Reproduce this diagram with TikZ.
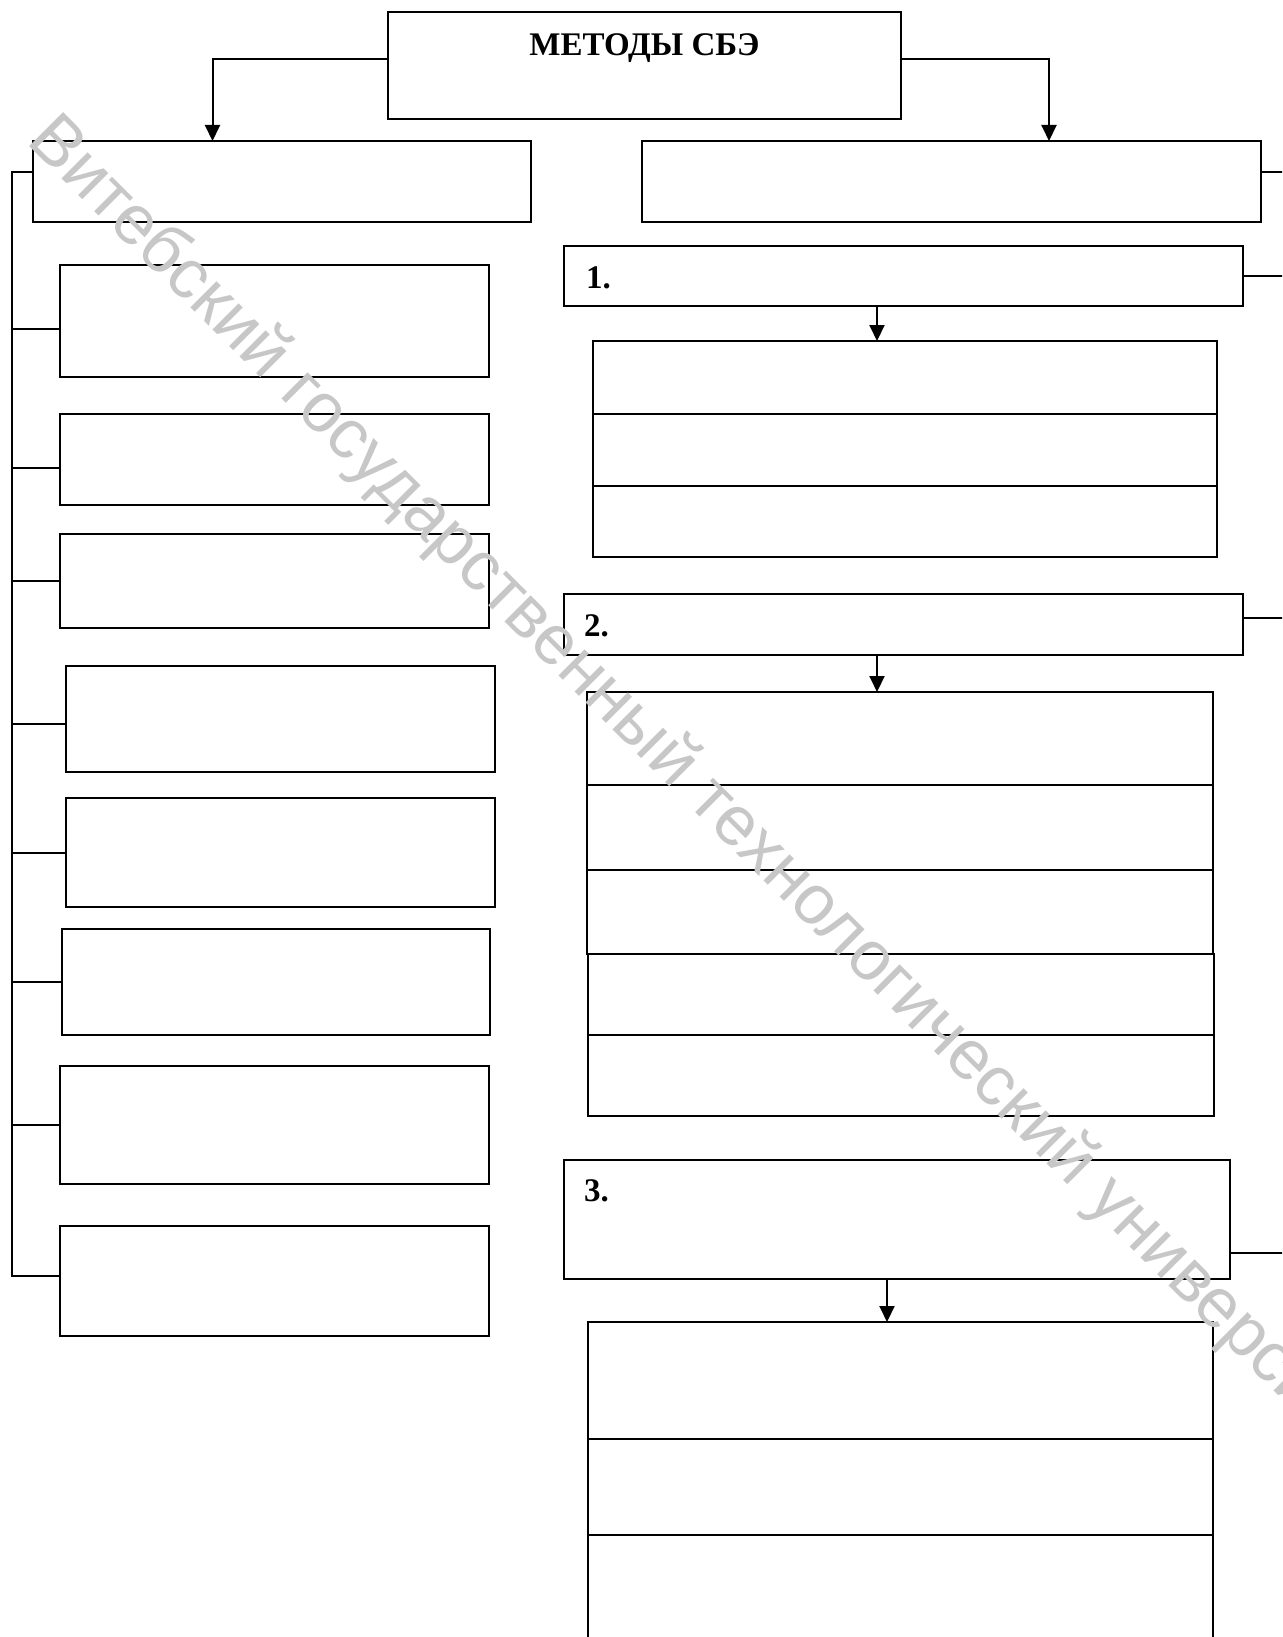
\documentclass[tikz,border=0pt]{standalone}
\usepackage{fontspec}
\setmainfont{Liberation Serif}
\newfontfamily\wmfont{Liberation Sans}
\usetikzlibrary{arrows.meta}
\begin{document}
\begin{tikzpicture}[x=1pt,y=-1pt,
  box/.style={draw=black, line width=1.2pt, inner sep=0pt, outer sep=0pt, anchor=north west},
  conn/.style={draw=black, line width=2pt},
  arr/.style={conn, -{Triangle[length=16pt,width=15pt]}},
  lbl/.style={font=\fontsize{33}{36}\selectfont\bfseries, inner sep=0pt, anchor=base west},
  wm/.style={font=\wmfont\fontsize{70}{80}\selectfont, text=black!22, inner sep=0pt, anchor=base west, rotate=-45}]
\useasboundingbox (0,0) rectangle (1282,1637);
\clip (0,0) rectangle (1282,1637);
\fill[white] (0,0) rectangle (1282,1637);

% top
\node[box, minimum width=513pt, minimum height=107pt] (top) at (388,12) {};
\node[font=\fontsize{33}{36}\selectfont\bfseries, anchor=base, inner sep=0pt] (ttl) at ([yshift=-43.5pt]top.north) {МЕТОДЫ СБЭ};

% two main boxes
\node[box, minimum width=498pt, minimum height=81pt] (LB) at (33,141) {};
\node[box, minimum width=619pt, minimum height=81pt] (RB) at (642,141) {};

% left column
\node[box, minimum width=429pt, minimum height=112pt] (L1) at (60,265) {};
\node[box, minimum width=429pt, minimum height=91pt]  (L2) at (60,414) {};
\node[box, minimum width=429pt, minimum height=94pt]  (L3) at (60,534) {};
\node[box, minimum width=429pt, minimum height=106pt] (L4) at (66,666) {};
\node[box, minimum width=429pt, minimum height=109pt] (L5) at (66,798) {};
\node[box, minimum width=428pt, minimum height=106pt] (L6) at (62,929) {};
\node[box, minimum width=429pt, minimum height=118pt] (L7) at (60,1066) {};
\node[box, minimum width=429pt, minimum height=110pt] (L8) at (60,1226) {};

% right column
\node[box, minimum width=679pt, minimum height=60pt] (B1) at (564,246) {};
\node[lbl] (t1) at ([xshift=22pt,yshift=-42pt]B1.north west) {1.};
\node[box, minimum width=624pt, minimum height=73pt] (S1a) at (593,341) {};
\node[box, minimum width=624pt, minimum height=72pt] (S1b) at (593,414) {};
\node[box, minimum width=624pt, minimum height=71pt] (S1c) at (593,486) {};

\node[box, minimum width=679pt, minimum height=61pt] (B2) at (564,594) {};
\node[lbl] (t2) at ([xshift=20pt,yshift=-42pt]B2.north west) {2.};
\node[box, minimum width=626pt, minimum height=93pt] (S2a) at (587,692) {};
\node[box, minimum width=626pt, minimum height=85pt] (S2b) at (587,785) {};
\node[box, minimum width=626pt, minimum height=84pt] (S2c) at (587,870) {};
\node[box, minimum width=626pt, minimum height=81pt] (S2d) at (588,954) {};
\node[box, minimum width=626pt, minimum height=81pt] (S2e) at (588,1035) {};

\node[box, minimum width=666pt, minimum height=119pt] (B3) at (564,1160) {};
\node[lbl] (t3) at ([xshift=20pt,yshift=-41pt]B3.north west) {3.};
\node[box, minimum width=625pt, minimum height=117pt] (S3a) at (588,1322) {};
\node[box, minimum width=625pt, minimum height=96pt]  (S3b) at (588,1439) {};
\node[box, minimum width=625pt, minimum height=130pt] (S3c) at (588,1535) {};

% top connectors
\draw[arr] ([yshift=6pt]top.west) -| ([xshift=-69.5pt]LB.north);
\draw[arr] ([yshift=6pt]top.east) -| ([xshift=97.5pt]RB.north);

% left bracket
\coordinate (spT) at (12,172);
\coordinate (spB) at (12,1276);
\coordinate (bLB) at ([yshift=9.5pt]LB.west);
\coordinate (b1) at ([yshift=-8pt]L1.west);
\coordinate (b2) at ([yshift=-8.5pt]L2.west);
\coordinate (b3) at (L3.west);
\coordinate (b4) at ([yshift=-4.5pt]L4.west);
\coordinate (b5) at (L5.west);
\coordinate (b6) at (L6.west);
\coordinate (b7) at (L7.west);
\coordinate (b8) at ([yshift=5pt]L8.west);
\draw[conn] (bLB) -- (spT) -- (spB) -- (b8);
\foreach \b in {b1,b2,b3,b4,b5,b6,b7} \draw[conn] (\b) -- (\b -| spT);

% right edge lines
\coordinate (edge) at (1290,0);
\coordinate (rRB) at ([yshift=9.5pt]RB.east);
\coordinate (rB1) at (B1.east);
\coordinate (rB2) at ([yshift=6.5pt]B2.east);
\coordinate (rB3) at ([yshift=-33.5pt]B3.east);
\foreach \r in {rRB,rB1,rB2,rB3} \draw[conn] (\r) -- (\r -| edge);

% down arrows
\coordinate (a1) at ([xshift=-26.5pt]B1.south);
\coordinate (a2) at ([xshift=-26.5pt]B2.south);
\coordinate (a3) at ([xshift=-10pt]B3.south);
\draw[arr] (a1) -- (a1 |- S1a.north);
\draw[arr] (a2) -- (a2 |- S2a.north);
\draw[arr] (a3) -- (a3 |- S3a.north);

% watermark
\node[wm] (wmk) at (25,142) {Витебский государственный технологический университет};
\end{tikzpicture}
\end{document}
